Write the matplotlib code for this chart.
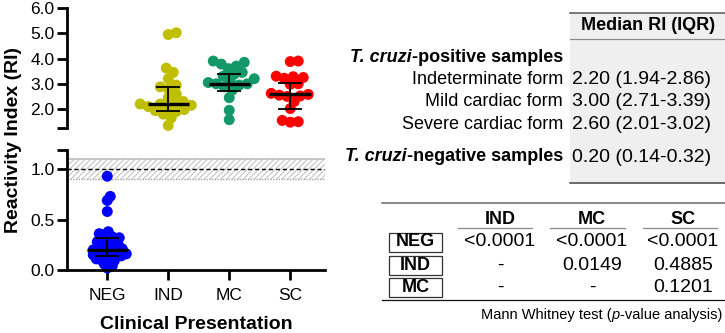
import numpy as np
import matplotlib
matplotlib.use('Agg')
import matplotlib.pyplot as plt
from matplotlib.patches import Rectangle
from matplotlib.lines import Line2D

plt.rcParams['font.family'] = ['Liberation Sans', 'DejaVu Sans']
plt.rcParams['hatch.linewidth'] = 0.8
plt.rcParams['hatch.color'] = '#c4c4c4'

# ---------------- data ----------------
categories = ['NEG', 'IND', 'MC', 'SC']
colors = ['#0000ff', '#bfbf00', '#14986a', '#ff0000']

neg = [0.93, 0.73, 0.69, 0.58, 0.38, 0.36, 0.35, 0.33, 0.32, 0.31, 0.30, 0.29,
       0.28, 0.27, 0.26, 0.25, 0.24, 0.23, 0.22, 0.21, 0.20, 0.20, 0.19, 0.18,
       0.18, 0.17, 0.16, 0.15, 0.15, 0.14, 0.14, 0.13, 0.12, 0.11, 0.10, 0.09,
       0.08, 0.06, 0.04, 0.02]
ind = [5.02, 4.95, 3.62, 3.45, 3.20, 2.95, 2.88, 2.80, 2.60, 2.45, 2.30, 2.22,
       2.20, 2.20, 2.15, 2.10, 2.05, 1.98, 1.94, 1.90, 1.80, 1.65, 1.35]
mc = [3.90, 3.85, 3.78, 3.70, 3.60, 3.45, 3.38, 3.30, 3.20, 3.10, 3.05, 3.00,
      3.00, 2.95, 2.88, 2.75, 2.45, 1.95, 1.58]
sc = [3.90, 3.88, 3.30, 3.28, 3.25, 3.22, 3.00, 2.98, 2.62, 2.58, 2.55, 2.52,
      2.50, 2.30, 2.02, 1.55, 1.50, 1.48]
groups = [neg, ind, mc, sc]

medians = [0.20, 2.20, 3.00, 2.60]
q1 = [0.14, 1.94, 2.71, 2.01]
q3 = [0.32, 2.86, 3.39, 3.02]

cutoff = 1.0
grey_zone = (0.9, 1.1)

top_ticks = [2.0, 3.0, 4.0, 5.0, 6.0]
bot_ticks = [0.0, 0.5, 1.0]

table1_header = 'Median RI (IQR)'
table1_labels = ['Indeterminate form', 'Mild cardiac form', 'Severe cardiac form']
table1_values = ['2.20 (1.94-2.86)', '3.00 (2.71-3.39)', '2.60 (2.01-3.02)']
table1_neg_value = '0.20 (0.14-0.32)'

pv_cols = ['IND', 'MC', 'SC']
pv_rows = ['NEG', 'IND', 'MC']
pv_values = [['<0.0001', '<0.0001', '<0.0001'],
             ['-', '0.0149', '0.4885'],
             ['-', '-', '0.1201']]

# ---------------- figure ----------------
W, H = 725, 333
fig = plt.figure(figsize=(W / 100, H / 100), dpi=100)


def fx(px):
    return px / W


def fy(py):
    return 1 - py / H


XL, XR = 67, 325
ax_top = fig.add_axes([fx(XL), fy(128), fx(XR) - fx(XL), fy(8) - fy(128)])
ax_bot = fig.add_axes([fx(XL), fy(270), fx(XR) - fx(XL), fy(150) - fy(270)])

xlim = (-0.66, 3.57)
top_lim = (1.25, 6.0)
bot_lim = (0.0, 1.19)
ax_top.set_xlim(*xlim)
ax_bot.set_xlim(*xlim)
ax_top.set_ylim(*top_lim)
ax_bot.set_ylim(*bot_lim)

x_scale = (XR - XL) / (xlim[1] - xlim[0])
top_scale = 120 / (top_lim[1] - top_lim[0])
bot_scale = 120 / (bot_lim[1] - bot_lim[0])


def swarm(values, ys_scale, d=7.0, step=1.0):
    vals = np.asarray(values, float)
    order = np.argsort(vals)
    placed = []
    offs = np.zeros(len(vals))
    cands = [0.0]
    for k in range(1, 120):
        cands += [k * step, -k * step]
    for i in order:
        y = vals[i] * ys_scale
        for c in cands:
            if all((c - px) ** 2 + (y - py) ** 2 >= d * d for px, py in placed):
                break
        placed.append((c, y))
        offs[i] = c / x_scale
    return offs


swarm_d = [4.8, 8.0, 8.0, 8.0]
for i, (vals, col) in enumerate(zip(groups, colors)):
    ax = ax_bot if i == 0 else ax_top
    sc_ = bot_scale if i == 0 else top_scale
    offs = swarm(vals, sc_, d=swarm_d[i])
    ax.scatter(i + offs, vals, s=62, color=col, edgecolors='none', zorder=3,
               clip_on=False)
    ax.hlines(medians[i], i - 0.34, i + 0.34, color='black', lw=2.4, zorder=5)
    ax.vlines(i, q1[i], q3[i], color='black', lw=1.3, zorder=5)
    ax.hlines([q1[i], q3[i]], i - 0.2, i + 0.2, color='black', lw=1.3, zorder=5)

# grey zone band
ax_bot.axhspan(grey_zone[0], grey_zone[1], facecolor='white', hatch='//////',
               edgecolor='#c4c4c4', lw=0, zorder=1)
ax_bot.axhline(grey_zone[1], color='#bdbdbd', lw=1.2, zorder=2)
ax_bot.axhline(grey_zone[0], color='#a0a0a0', lw=1.0, ls=(0, (1, 1)), zorder=2)
ax_bot.axhline(cutoff, color='black', lw=1.0, ls=(0, (3, 2)), zorder=2)

# axes styling
for ax in (ax_top, ax_bot):
    for s in ('top', 'right'):
        ax.spines[s].set_visible(False)
    ax.spines['left'].set_linewidth(2.0)
    ax.tick_params(axis='y', length=7, width=2.0, labelsize=12.5, pad=2)
ax_top.spines['bottom'].set_visible(False)
ax_top.set_xticks([])
ax_top.set_yticks([top_lim[0]] + top_ticks)
ax_top.set_yticklabels([''] + [f'{t:.1f}' for t in top_ticks])
ax_bot.set_yticks(bot_ticks + [bot_lim[1]])
ax_bot.set_yticklabels([f'{t:.1f}' for t in bot_ticks] + [''])
ax_bot.spines['bottom'].set_linewidth(2.0)
ax_bot.spines['bottom'].set_zorder(4)
ax_bot.set_xticks(range(len(categories)))
ax_bot.set_xticklabels(categories)
ax_bot.tick_params(axis='x', length=7, width=2.0, labelsize=12.5, pad=6)
ax_bot.set_xlabel('Clinical Presentation', fontsize=14, fontweight='bold',
                  labelpad=9)
fig.text(fx(14), fy(140), 'Reactivity Index (RI)', rotation=90, fontsize=14,
         fontweight='bold', ha='center', va='center')


# ---------------- tables ----------------
def hline(y, x0, x1, color, lw):
    fig.add_artist(Line2D([fx(x0), fx(x1)], [fy(y), fy(y)], color=color, lw=lw,
                          transform=fig.transFigure))


renderer = fig.canvas.get_renderer()
FS = 13
FV = 14

# table 1
fig.add_artist(Rectangle((fx(570), fy(183)), fx(725) - fx(570), fy(12.5) - fy(183),
                         transform=fig.transFigure, facecolor='#efefef',
                         edgecolor='none'))
hline(12.5, 570, 725, '#555555', 1.1)
hline(39, 570, 725, '#8a8a8a', 0.9)
hline(183, 570, 725, '#444444', 1.1)
fig.text(fx(648), fy(26), table1_header, fontsize=FS, fontweight='bold',
         ha='center', va='center')


def mixed_right(xr, y, parts, fs):
    x = xr
    for txt, style, weight in reversed(parts):
        t = fig.text(fx(x), fy(y), txt, fontsize=fs, fontstyle=style,
                     fontweight=weight, ha='right', va='center')
        bb = t.get_window_extent(renderer)
        x = bb.x0


mixed_right(563, 58, [('T. cruzi', 'italic', 'bold'),
                      ('-positive samples', 'normal', 'bold')], FS)
row_y = [80, 102, 124]
for lab, val, y in zip(table1_labels, table1_values, row_y):
    fig.text(fx(563), fy(y), lab, fontsize=FS, ha='right', va='center')
    fig.text(fx(572), fy(y), val, fontsize=FV, ha='left', va='center')
mixed_right(563, 157, [('T. cruzi', 'italic', 'bold'),
                       ('-negative samples', 'normal', 'bold')], FS)
fig.text(fx(572), fy(158), table1_neg_value, fontsize=FV, ha='left', va='center')

# table 2
hline(203, 382, 725, '#666666', 1.1)
hline(300, 382, 725, '#111111', 0.9)
col_x = [500, 592, 683]
ul = [(458, 532), (550, 625), (643, 717)]
for name, cx, (u0, u1) in zip(pv_cols, col_x, ul):
    fig.text(fx(cx), fy(219), name, fontsize=FS, fontweight='bold',
             ha='center', va='center')
    hline(228, u0, u1, '#888888', 0.9)
rows_y = [242, 265, 287]
for r, (name, y) in enumerate(zip(pv_rows, rows_y)):
    fig.add_artist(Rectangle((fx(389), fy(y + 9.5)), fx(442) - fx(389), 19 / H,
                             transform=fig.transFigure, facecolor='white',
                             edgecolor='#333333', lw=0.9))
    fig.text(fx(415.5), fy(y), name, fontsize=FS, fontweight='bold',
             ha='center', va='center')
    for c, cx in enumerate(col_x):
        fig.text(fx(cx), fy(y), pv_values[r][c], fontsize=FV, ha='center',
                 va='center')

mixed_right(722, 315, [('Mann Whitney test (', 'normal', 'normal'),
                       ('p', 'italic', 'normal'),
                       ('-value analysis)', 'normal', 'normal')], 10.5)

fig.savefig('out.png', dpi=100)
